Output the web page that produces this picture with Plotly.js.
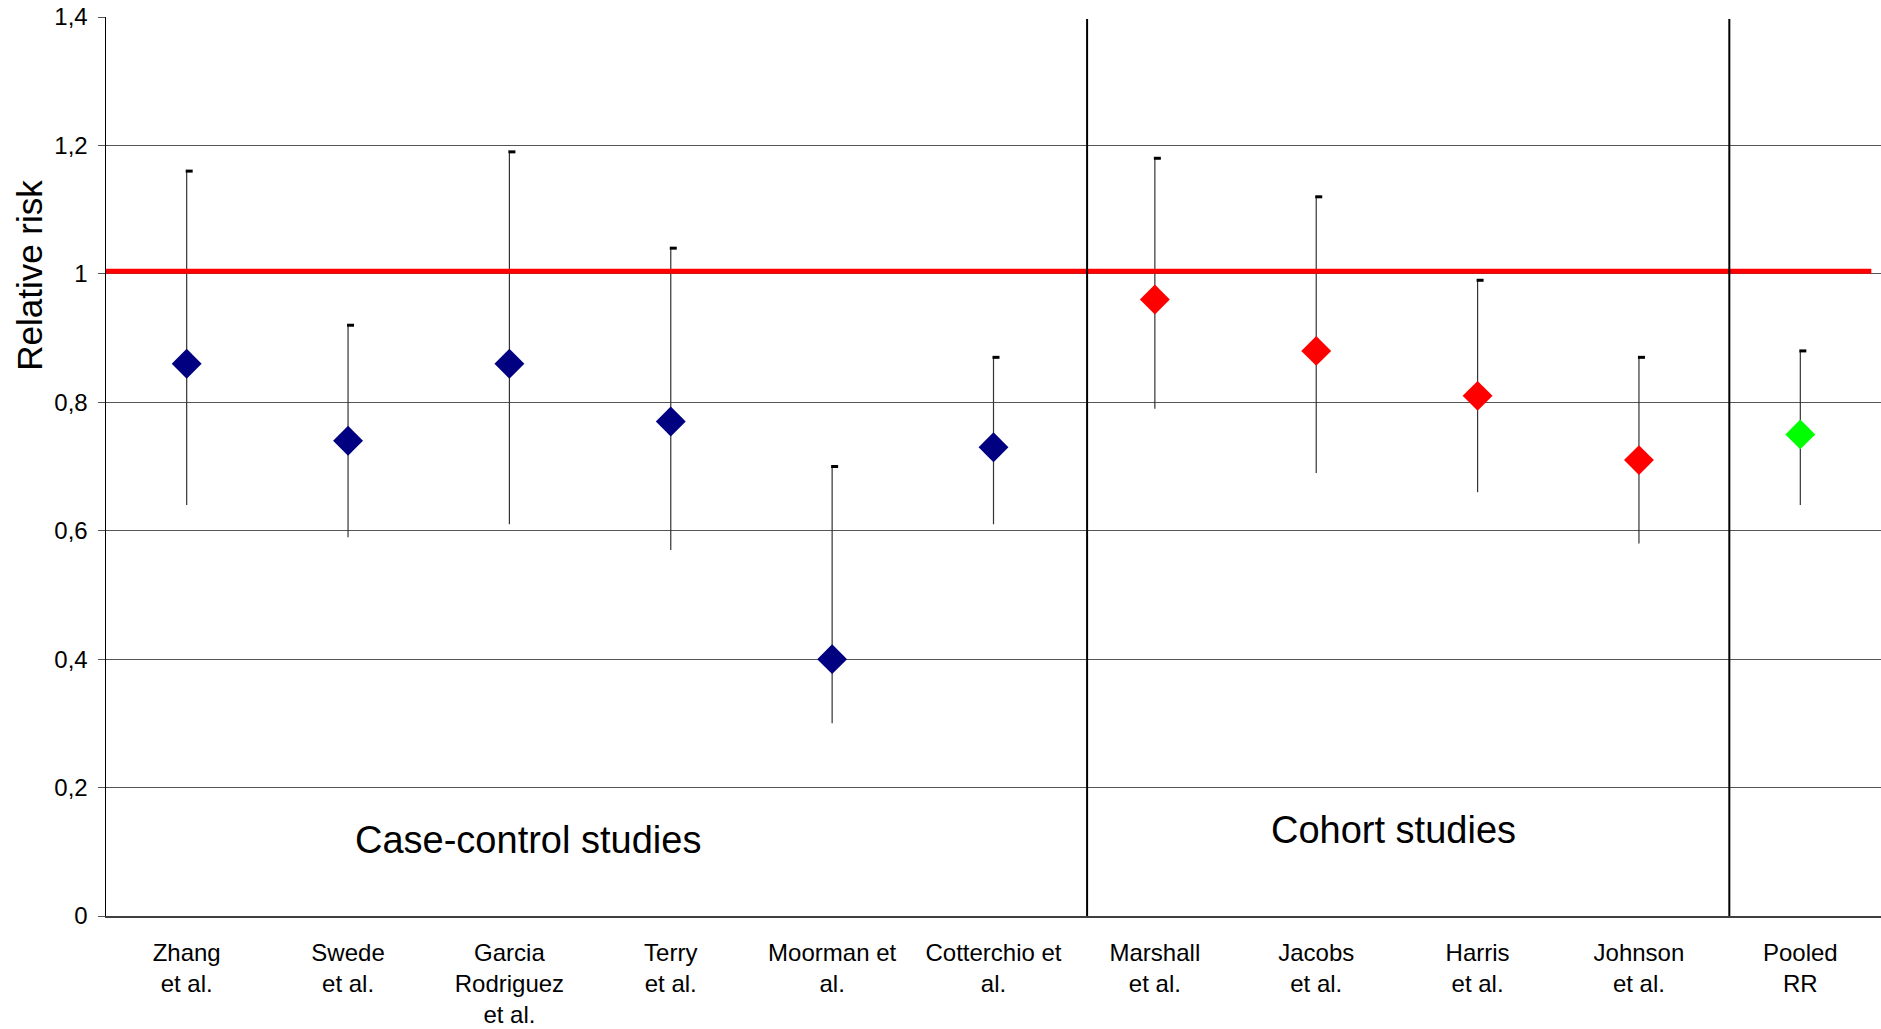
<!DOCTYPE html>
<html>
<head>
<meta charset="utf-8">
<script src="https://cdn.plot.ly/plotly-3.0.1.min.js"></script>
<style>html,body{margin:0;padding:0;background:#fff;}#chart{width:1881px;height:1029px;}</style>
</head>
<body>
<div id="chart"></div>
<script>
// ---- data ----
const studies = ["Zhang<br>et al.", "Swede<br>et al.", "Garcia<br>Rodriguez<br>et al.", "Terry<br>et al.",
  "Moorman et<br>al.", "Cotterchio et<br>al.", "Marshall<br>et al.", "Jacobs<br>et al.",
  "Harris<br>et al.", "Johnson<br>et al.", "Pooled<br>RR"];
const groups = ["case-control","case-control","case-control","case-control","case-control","case-control",
  "cohort","cohort","cohort","cohort","pooled"];
const rr    = [0.86, 0.74, 0.86, 0.77, 0.40, 0.73, 0.96, 0.88, 0.81, 0.71, 0.75];
const upper = [1.16, 0.92, 1.19, 1.04, 0.70, 0.87, 1.18, 1.12, 0.99, 0.87, 0.88];
const lower = [0.64, 0.59, 0.61, 0.57, 0.30, 0.61, 0.79, 0.69, 0.66, 0.58, 0.64];
const yTickVals = [0, 0.2, 0.4, 0.6, 0.8, 1, 1.2, 1.4];
const yTickText = ["0", "0,2", "0,4", "0,6", "0,8", "1", "1,2", "1,4"];
const referenceRR = 1;
const sectionLabels = ["Case-control studies", "Cohort studies"];

const groupColors = {"case-control": "#000080", "cohort": "#FF0000", "pooled": "#00FF00"};
const FONT = "Liberation Sans, Arial, Helvetica, sans-serif";

const traces = [];
// error lines + diamonds per group
["case-control", "cohort", "pooled"].forEach(g => {
  const idx = groups.map((v, i) => v === g ? i : -1).filter(i => i >= 0);
  traces.push({
    type: "scatter", mode: "markers",
    x: idx.map(i => studies[i]),
    y: idx.map(i => rr[i]),
    error_y: {
      type: "data", symmetric: false,
      array: idx.map(i => upper[i] - rr[i]),
      arrayminus: idx.map(i => rr[i] - lower[i]),
      color: "#333333", thickness: 1.2, width: 0
    },
    marker: {symbol: "diamond", size: 23, color: groupColors[g], line: {width: 0}},
    showlegend: false, hoverinfo: "x+y", cliponaxis: false
  });
});
// caps at upper limit (drawn slightly to the right, like the original)
traces.push({
  type: "scatter", mode: "markers", xaxis: "x2",
  x: studies, y: upper,
  marker: {symbol: "line-ew", size: 5, line: {width: 3, color: "#000"}},
  showlegend: false, hoverinfo: "skip"
});

const n = studies.length;
const shift = 2.5 / 161.4;

const layout = {
  width: 1881, height: 1029,
  margin: {l: 106, r: 0, t: 17, b: 113},
  paper_bgcolor: "#fff", plot_bgcolor: "#fff",
  font: {family: FONT, color: "#000"},
  showlegend: false,
  xaxis: {
    type: "category", categoryarray: studies, range: [-0.5, n - 0.5],
    showgrid: false, zeroline: false,
    showline: true, linecolor: "#404040", linewidth: 2,
    ticks: "", tickfont: {size: 24, family: FONT, color: "#000"},
    ticklabelstandoff: 14
  },
  xaxis2: {
    type: "category", categoryarray: studies, overlaying: "x",
    range: [-0.5 - shift, n - 0.5 - shift], visible: false
  },
  yaxis: {
    range: [0, 1.4], tickvals: yTickVals, ticktext: yTickText,
    showgrid: true, gridcolor: "#555", gridwidth: 1,
    zeroline: false, showline: true, linecolor: "#000", linewidth: 1.5,
    ticks: "outside", ticklen: 7, tickcolor: "#555", tickwidth: 1,
    tickfont: {size: 24, family: FONT, color: "#000"},
    ticklabelstandoff: 5
  },
  shapes: [
    {type: "line", xref: "x", yref: "y", x0: -0.52, x1: n - 0.56, y0: referenceRR + 0.004, y1: referenceRR + 0.004,
     line: {color: "#FF0000", width: 5}},
    {type: "line", xref: "x", yref: "y", x0: 5.58, x1: 5.58, y0: -0.008, y1: 1.397,
     line: {color: "#000", width: 2}},
    {type: "line", xref: "x", yref: "y", x0: 9.56, x1: 9.56, y0: -0.008, y1: 1.397,
     line: {color: "#000", width: 2}}
  ],
  annotations: [
    {text: sectionLabels[0], xref: "x", yref: "y", x: 2.115, y: 0.118, showarrow: false,
     xanchor: "center", yanchor: "middle", font: {size: 38, family: FONT, color: "#000"}},
    {text: sectionLabels[1], xref: "x", yref: "y", x: 7.48, y: 0.134, showarrow: false,
     xanchor: "center", yanchor: "middle", font: {size: 38, family: FONT, color: "#000"}},
    {text: "Relative risk", xref: "paper", yref: "y", x: -0.0428, y: 0.997, showarrow: false,
     textangle: -90, xanchor: "center", yanchor: "middle", font: {size: 35, family: FONT, color: "#000"}}
  ]
};

Plotly.newPlot("chart", traces, layout, {displayModeBar: false, staticPlot: true});
</script>
</body>
</html>
